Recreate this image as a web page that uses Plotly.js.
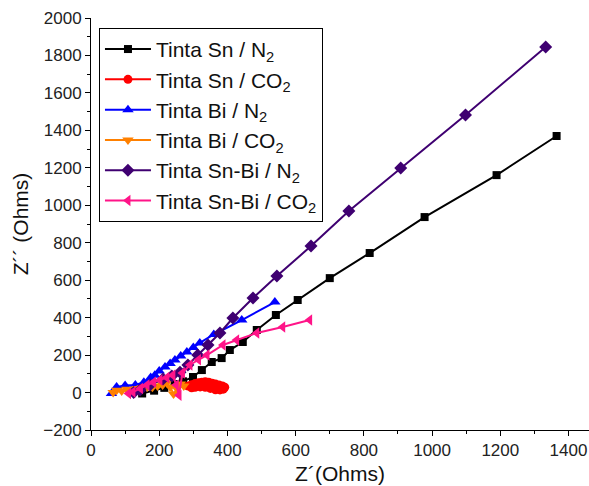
<!DOCTYPE html>
<html>
<head>
<meta charset="utf-8">
<script src="https://cdn.plot.ly/plotly-3.0.1.min.js"></script>
<style>html,body{margin:0;padding:0;background:#fff;}#chart{width:589px;height:486px;}</style>
</head>
<body>
<div id="chart"></div>
<script>
// Series names
const seriesNames = [
  "Tinta Sn / N<sub>2</sub>",
  "Tinta Sn / CO<sub>2</sub>",
  "Tinta Bi / N<sub>2</sub>",
  "Tinta Bi / CO<sub>2</sub>",
  "Tinta Sn-Bi / N<sub>2</sub>",
  "Tinta Sn-Bi / CO<sub>2</sub>"
];

// Tinta Sn / N2
const snN2_x = [150, 185, 215, 245, 270, 299, 325, 354, 383, 407, 445, 486, 542, 606, 700, 817, 978, 1189, 1365];
const snN2_y = [-5, 10, 25, 45, 60, 83, 120, 163, 184, 227, 270, 334, 414, 494, 611, 745, 937, 1161, 1370];

// Tinta Sn / CO2
const snCO2_x = [285, 295, 305, 315, 325, 335, 345, 355, 365, 375, 385, 392, 388, 378, 365, 350, 335, 320, 305, 295];
const snCO2_y = [35, 42, 48, 52, 55, 58, 55, 50, 45, 40, 35, 28, 18, 14, 15, 22, 28, 30, 28, 25];

// Tinta Bi / N2
const biN2_x = [60, 75, 100, 130, 155, 175, 187, 200, 217, 232, 246, 263, 281, 300, 319, 360, 442, 539];
const biN2_y = [-5, 30, 38, 40, 55, 80, 93, 115, 136, 155, 174, 195, 217, 240, 265, 310, 387, 483];

// Tinta Bi / CO2
const biCO2_x = [65, 75, 90, 105, 120, 135, 150, 165, 180, 195, 210, 222, 232, 242, 252, 262, 272];
const biCO2_y = [0, 12, 8, 18, 14, 22, 25, 30, 28, 35, 40, 52, 30, -8, 20, 45, 35];

// Tinta Sn-Bi / N2
const snbiN2_x = [125, 144, 173, 211, 237, 261, 284, 313, 343, 378, 416, 475, 545, 645, 756, 908, 1098, 1333];
const snbiN2_y = [0, 13, 40, 72, 88, 109, 147, 200, 254, 318, 398, 505, 622, 782, 969, 1199, 1482, 1845];

// Tinta Sn-Bi / CO2
const snbiCO2_x = [110, 123, 145, 164, 183, 202, 222, 240, 250, 258, 268, 290, 315, 340, 387, 427, 486, 562, 641];
const snbiCO2_y = [-5, 3, 22, 40, 55, 67, 80, 93, 40, -15, 105, 147, 175, 200, 254, 280, 318, 350, 387];

const colors = ["#000000", "#FF0000", "#0000FF", "#FF8000", "#3F0071", "#FF1488"];
const symbols = ["square", "circle", "triangle-up", "triangle-down", "diamond", "triangle-left"];
const xs = [snN2_x, snCO2_x, biN2_x, biCO2_x, snbiN2_x, snbiCO2_x];
const ys = [snN2_y, snCO2_y, biN2_y, biCO2_y, snbiN2_y, snbiCO2_y];
const sizes = [8, 9, 10, 10, 10, 10];

const traces = seriesNames.map((n, i) => ({
  x: xs[i], y: ys[i], name: n, type: "scatter", mode: "lines+markers",
  legendgroup: "g" + i,
  line: {color: colors[i], width: 2},
  marker: {symbol: symbols[i], size: sizes[i], color: colors[i]}
}));

const FF = "Liberation Sans, Arial, sans-serif";
const tickFont = {family: FF, size: 17, color: "#222"};
const layout = {
  width: 589, height: 486,
  margin: {l: 91, r: 0, t: 18, b: 56},
  paper_bgcolor: "#fff", plot_bgcolor: "#fff",
  showlegend: true,
  legend: {
    x: 0.016, y: 0.976, xanchor: "left", yanchor: "top",
    bordercolor: "#000", borderwidth: 1, bgcolor: "#fff",
    font: {family: FF, size: 21, color: "#111"},
    itemwidth: 46,
    traceorder: "grouped", tracegroupgap: 0
  },
  xaxis: {
    range: [0, 1460], dtick: 200, tick0: 0,
    showgrid: false, zeroline: false, showline: true, linecolor: "#000", linewidth: 1,
    ticks: "outside", ticklen: 5, tickcolor: "#000",
    minor: {dtick: 100, ticks: "outside", ticklen: 3, tickcolor: "#000", showgrid: false},
    tickfont: tickFont,
    title: {text: "Z´(Ohms)", font: {family: FF, size: 21, color: "#111"}, standoff: 6}
  },
  yaxis: {
    range: [-200, 2000], dtick: 200, tick0: 0,
    showgrid: false, zeroline: false, showline: true, linecolor: "#000", linewidth: 1,
    ticks: "outside", ticklen: 5, tickcolor: "#000",
    minor: {dtick: 100, ticks: "outside", ticklen: 3, tickcolor: "#000", showgrid: false},
    tickfont: tickFont,
    title: {text: "Z´´ (Ohms)", font: {family: FF, size: 21, color: "#111"}, standoff: 8}
  }
};

Plotly.newPlot("chart", traces, layout, {displayModeBar: false, staticPlot: true});
</script>
</body>
</html>
